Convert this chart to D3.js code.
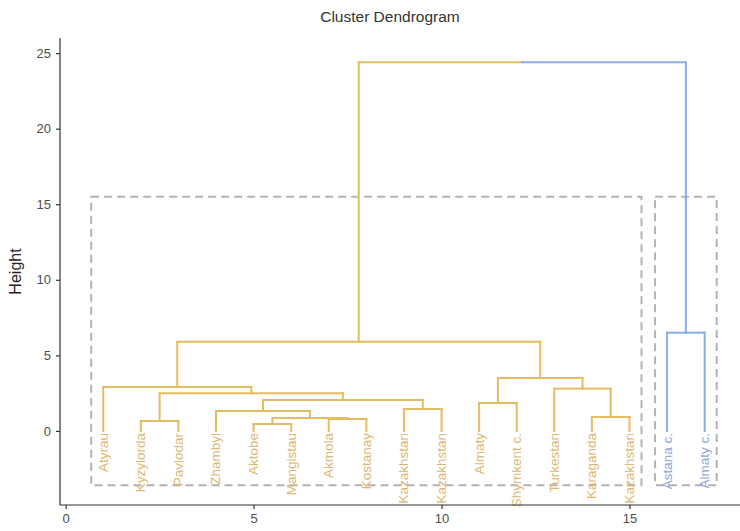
<!DOCTYPE html>
<html>
<head>
<meta charset="utf-8">
<script src="https://cdn.jsdelivr.net/npm/d3@7"></script>
<style>
  body { margin: 0; background: #fff; }
  svg { font-family: "Liberation Sans", Arial, sans-serif; }
</style>
</head>
<body>
<div id="dend"></div>
<script>
// leaves in plotting order
const leafLabels = ["Atyrau", "Kyzylorda", "Pavlodar", "Zhambyl", "Aktobe", "Mangistau",
    "Akmola", "Kostanay", "Kazakhstan", "Kazakhstan", "Almaty", "Shymkent c.",
    "Turkestan", "Karaganda", "Kazakhstan", "Astana c.", "Almaty c."];

// hclust-style merges: negative = leaf (1-based), positive = earlier merge step
const mergeLeft = [-5, -2, -7, 1, -14, -4, -9, -11, 6, 2, -13, -1, 8, 12, -16, 14];
const mergeRight = [-6, -3, -8, 3, -15, 4, -10, -12, 7, 9, 5, 10, 11, 13, -17, 15];
const mergeHeight = [0.46, 0.66, 0.79, 0.86, 0.92, 1.32, 1.45, 1.85, 2.05, 2.5, 2.8, 2.9, 3.5, 5.9, 6.5, 24.4];

const clusterColors = ["#E6BC62", "#8AADE6"];
const labelColors = ["#DDB670", "#8BA6D6"];
const rectTop = 15.5;
const rectBottom = -3.6;

const yTicks = [0, 5, 10, 15, 20, 25];
const xTicks = [0, 5, 10, 15];

function drawDendrogram() {
    const width = 740, height = 531;
    const margin = { top: 38, right: 0, bottom: 26, left: 60 };

    const svg = d3.select("#dend").append("svg")
        .attr("width", width)
        .attr("height", height);

    const x = d3.scaleLinear()
        .domain([-0.15, 17.94])
        .range([margin.left, width - margin.right]);

    const y = d3.scaleLinear()
        .domain([-4.9, 26.0])
        .range([height - margin.bottom, margin.top]);

    // node positions
    const nodes = [];
    const nodeX = i => i < 0 ? -i : nodes[i - 1].x;
    const nodeH = i => i < 0 ? 0 : nodes[i - 1].h;
    const leavesOf = i => i < 0 ? [-i] : nodes[i - 1].leaves;
    mergeLeft.forEach((l, k) => {
        const r = mergeRight[k];
        nodes.push({
            x: (nodeX(l) + nodeX(r)) / 2,
            h: mergeHeight[k],
            leaves: leavesOf(l).concat(leavesOf(r))
        });
    });

    // cluster membership from the last merge (k = 2)
    const last = mergeLeft.length - 1;
    const cluster = {};
    leavesOf(mergeLeft[last]).forEach(l => cluster[l] = 0);
    leavesOf(mergeRight[last]).forEach(l => cluster[l] = 1);
    const colorOf = i => {
        const ls = leavesOf(i);
        const c = cluster[ls[0]];
        return ls.every(l => cluster[l] === c) ? clusterColors[c] : "#999";
    };

    // segments: from parent x at parent height to child x, then down to child
    const segs = [];
    mergeLeft.forEach((l, k) => {
        const px = nodes[k].x, ph = nodes[k].h;
        [l, mergeRight[k]].forEach(c => {
            segs.push({ x1: px, y1: ph, x2: nodeX(c), y2: ph, color: colorOf(c) });
            segs.push({ x1: nodeX(c), y1: ph, x2: nodeX(c), y2: nodeH(c), color: colorOf(c) });
        });
    });

    // dashed cluster rectangles
    [mergeLeft[last], mergeRight[last]].forEach(c => {
        const ls = leavesOf(c);
        const x0 = x(d3.min(ls) - 0.32), x1 = x(d3.max(ls) + 0.32);
        svg.append("rect")
            .attr("x", x0)
            .attr("y", y(rectTop))
            .attr("width", x1 - x0)
            .attr("height", y(rectBottom) - y(rectTop))
            .attr("fill", "none")
            .attr("stroke", "#B3B3B3")
            .attr("stroke-width", 2)
            .attr("stroke-dasharray", "8,5");
    });

    svg.append("g").selectAll("line")
        .data(segs)
        .enter().append("line")
        .attr("x1", d => x(d.x1))
        .attr("y1", d => y(d.y1))
        .attr("x2", d => x(d.x2))
        .attr("y2", d => y(d.y2))
        .attr("stroke", d => d.color)
        .attr("stroke-width", 2)
        .attr("stroke-linecap", "square");

    // leaf labels
    svg.append("g").selectAll("text")
        .data(leafLabels)
        .enter().append("text")
        .attr("transform", (d, i) => `translate(${x(i + 1) + 4.5},${y(0) + 2}) rotate(-90)`)
        .attr("text-anchor", "end")
        .style("font-size", "13.5px")
        .style("fill", (d, i) => labelColors[cluster[i + 1]])
        .text(d => d);

    // axes
    const yAxis = svg.append("g")
        .attr("transform", `translate(${margin.left},0)`)
        .call(d3.axisLeft(y).tickValues(yTicks).tickSize(4).tickPadding(5));
    yAxis.select(".domain").attr("d", `M0,${y.range()[1]}V${y.range()[0]}`);

    const xAxis = svg.append("g")
        .attr("transform", `translate(0,${height - margin.bottom})`)
        .call(d3.axisBottom(x).tickValues(xTicks).tickSize(4).tickPadding(5));
    xAxis.select(".domain").attr("d", `M${x.range()[0]},0H${x.range()[1]}`);

    [yAxis, xAxis].forEach(a => {
        a.select(".domain").attr("stroke", "#333").attr("stroke-width", 1.2);
        a.selectAll(".tick line").attr("stroke", "#333").attr("stroke-width", 1.2);
        a.selectAll(".tick text")
            .style("font-size", "13px")
            .style("fill", "#4D4D4D")
            .style("font-family", "Liberation Sans, Arial, sans-serif");
    });

    svg.append("text")
        .attr("transform", `translate(21,${(y.range()[0] + y.range()[1]) / 2}) rotate(-90)`)
        .attr("text-anchor", "middle")
        .style("font-size", "16px")
        .style("fill", "#222")
        .text("Height");

    svg.append("text")
        .attr("x", 390)
        .attr("y", 22)
        .attr("text-anchor", "middle")
        .style("font-size", "15.5px")
        .style("fill", "#333")
        .text("Cluster Dendrogram");
}

drawDendrogram();
</script>
</body>
</html>
